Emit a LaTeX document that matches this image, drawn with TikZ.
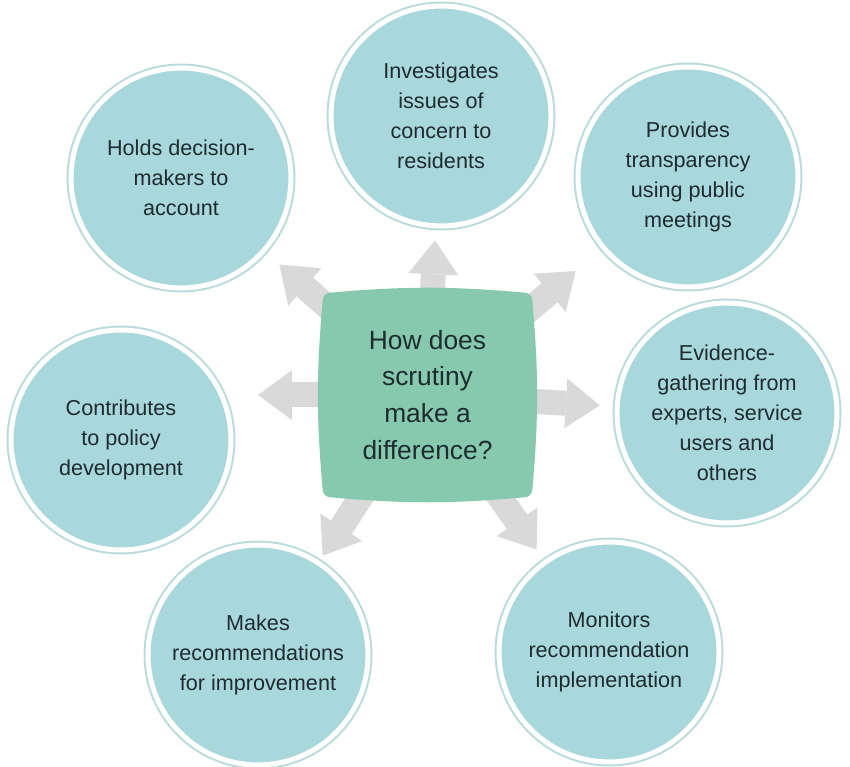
\documentclass[tikz,border=0pt]{standalone}
\usepackage{fontspec}
\setmainfont{Liberation Sans}
\usetikzlibrary{arrows.meta,backgrounds}
\definecolor{bubfill}{HTML}{A9D8DC}
\definecolor{bubring}{HTML}{BADBDB}
\definecolor{qgreen}{HTML}{86C9AE}
\definecolor{spokegray}{HTML}{D9D9D9}
\definecolor{ink}{HTML}{1E2C30}
\tikzset{
  bubble/.style={circle, minimum size=4.4cm, inner sep=0pt, fill=bubfill,
    preaction={draw=bubring, line width=0.18cm}, draw=white, line width=0.1cm,
    align=center, text=ink, font=\fontsize{12.3}{17}\selectfont},
  question/.style={minimum width=3.86cm, minimum height=3.76cm, inner sep=0pt,
    align=center, text=ink, font=\fontsize{15}{21}\selectfont},
  spoke/.style={draw=spokegray, line width=0.5cm,
    -{Triangle[length=0.68cm, width=1cm, line width=0pt]}},
}

\begin{document}
\begin{tikzpicture}[x=0.02cm, y=0.02cm]
  \useasboundingbox (0,0) rectangle (850,767);

  % the seven roles
  \node[bubble] (holds) at (181,589) {Holds decision-\\makers to\\account};
  \node[bubble] (invest) at (441,651) {Investigates\\issues of\\concern to\\residents};
  \node[bubble] (provides) at (688,590) {Provides\\transparency\\using public\\meetings};
  \node[bubble] (evidence) at (727,354)
    {Evidence-\\gathering from\\experts, service\\users and\\others};
  \node[bubble] (monitors) at (609,115) {Monitors\\recommendation\\implementation};
  \node[bubble] (makes) at (258,112) {Makes\\recommendations\\for improvement};
  \node[bubble] (contrib) at (121,327) {Contributes\\to policy\\development};

  % the question in the middle
  \node[question] (q) at (427.5,372) {How does\\scrutiny\\make a\\difference?};

  \begin{scope}[on background layer]
    \draw[spoke, shorten >=0.37cm] (q.center) -- (holds);
    \draw[spoke, shorten >=0.24cm] (q.center) -- (invest);
    \draw[spoke, shorten >=0.68cm] (q.center) -- (provides);
    \draw[spoke, shorten >=0.3cm] (q.center) -- (evidence);
    \draw[spoke, shorten >=0.26cm] (q.center) -- (monitors);
    \draw[spoke, shorten >=0.12cm] (q.center) -- (makes);
    \draw[spoke, shorten >=0.49cm] (q.center) -- (q.center -| contrib.east);

    \path[fill=qgreen, draw=qgreen, line width=0.32cm, line join=round]
      (q.north west) to[bend left=5] (q.north east)
      to[bend left=5] (q.south east) to[bend left=5] (q.south west)
      to[bend left=5] (q.north west) -- cycle;
  \end{scope}
\end{tikzpicture}
\end{document}
